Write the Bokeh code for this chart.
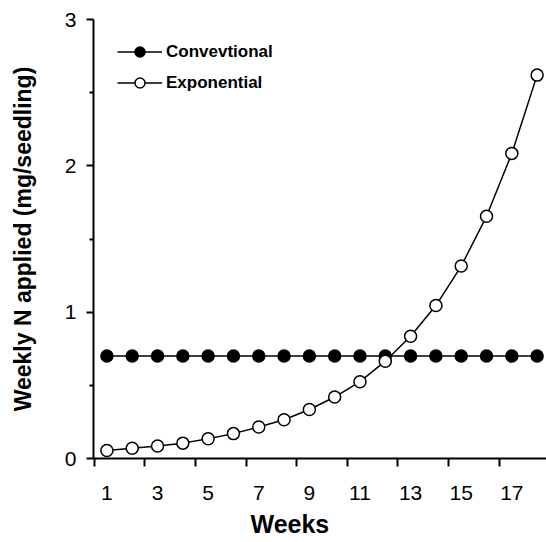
from bokeh.plotting import figure
from bokeh.models import FixedTicker, Title, Range1d, Legend, LegendItem
from bokeh.embed import file_html
from bokeh.resources import INLINE

# ---- data ----
weeks = [1, 2, 3, 4, 5, 6, 7, 8, 9, 10, 11, 12, 13, 14, 15, 16, 17, 18]
conventional = [0.70, 0.70, 0.70, 0.70, 0.70, 0.70, 0.70, 0.70, 0.70,
                0.70, 0.70, 0.70, 0.70, 0.70, 0.70, 0.70, 0.70, 0.70]
exponential = [0.055, 0.07, 0.085, 0.105, 0.135, 0.17, 0.215, 0.265, 0.335,
               0.42, 0.525, 0.665, 0.835, 1.045, 1.315, 1.655, 2.085, 2.62]
x_label_weeks = [1, 3, 5, 7, 9, 11, 13, 15, 17]
x_tick_labels = ["1", "3", "5", "7", "9", "11", "13", "15", "17"]
x_tick_marks = [0.5, 2.5, 4.5, 6.5, 8.5, 10.5, 12.5, 14.5, 16.5]
y_ticks = [0, 1, 2, 3]
y_minor = [0.5, 1.5, 2.5]
series_names = ["Convevtional", "Exponential"]

FONT = "Liberation Sans"

p = figure(width=546, height=542,
           x_range=Range1d(0.47, 18.37), y_range=Range1d(0, 3),
           output_backend="svg", toolbar_location=None,
           min_border_left=93, min_border_right=0,
           min_border_top=19, min_border_bottom=82)
p.outline_line_color = None
p.xgrid.grid_line_color = None
p.ygrid.grid_line_color = None
p.background_fill_color = "white"
p.border_fill_color = "white"

# y axis
ya = p.yaxis[0]
ya.ticker = FixedTicker(ticks=y_ticks, minor_ticks=y_minor)
ya.axis_line_width = 2
ya.major_tick_line_width = 2
ya.minor_tick_line_width = 2
ya.major_tick_out = 7
ya.major_tick_in = 0
ya.minor_tick_out = 4
ya.minor_tick_in = 0
ya.major_label_text_font = FONT
ya.major_label_text_font_size = "21px"
ya.major_label_text_color = "black"
ya.major_label_standoff = 10
ya.axis_label = "Weekly N applied (mg/seedling)"
ya.axis_label_text_font = FONT
ya.axis_label_text_font_size = "23px"
ya.axis_label_text_font_style = "bold"
ya.axis_label_text_color = "black"
ya.axis_label_standoff = 26

# x axis: labels at odd weeks, tick marks (minor) between them
xa = p.xaxis[0]
xa.ticker = FixedTicker(ticks=x_label_weeks, minor_ticks=x_tick_marks)
xa.major_label_overrides = {w: t for w, t in zip(x_label_weeks, x_tick_labels)}
xa.axis_line_width = 2
xa.major_tick_line_color = None
xa.major_tick_out = 0
xa.major_tick_in = 0
xa.minor_tick_line_width = 2
xa.minor_tick_out = 8
xa.minor_tick_in = 0
xa.major_label_standoff = 19
xa.major_label_text_font = FONT
xa.major_label_text_font_size = "21px"
xa.major_label_text_color = "black"

p.add_layout(Title(text="Weeks", align="left", offset=157, standoff=10,
                   text_font=FONT, text_font_size="25px", text_font_style="bold",
                   text_color="black"), "below")

# data
l1 = p.line(weeks, conventional, line_color="black", line_width=1.5)
s1 = p.scatter(weeks, conventional, size=12, fill_color="black",
               line_color="black", line_width=1.5)
l2 = p.line(weeks, exponential, line_color="black", line_width=1.5)
s2 = p.scatter(weeks, exponential, size=12, fill_color="white",
               line_color="black", line_width=1.5)

legend = Legend(items=[LegendItem(label=series_names[0], renderers=[l1, s1]),
                       LegendItem(label=series_names[1], renderers=[l2, s2])],
                location=(24, 363))
legend.border_line_color = None
legend.background_fill_alpha = 0
legend.padding = 0
legend.margin = 0
legend.spacing = 6
legend.glyph_width = 45
legend.glyph_height = 25
legend.label_height = 25
legend.label_standoff = 4
legend.label_text_font = FONT
legend.label_text_font_size = "17px"
legend.label_text_font_style = "bold"
legend.label_text_color = "black"
p.add_layout(legend)

open("out.html", "w").write(file_html(p, INLINE))
